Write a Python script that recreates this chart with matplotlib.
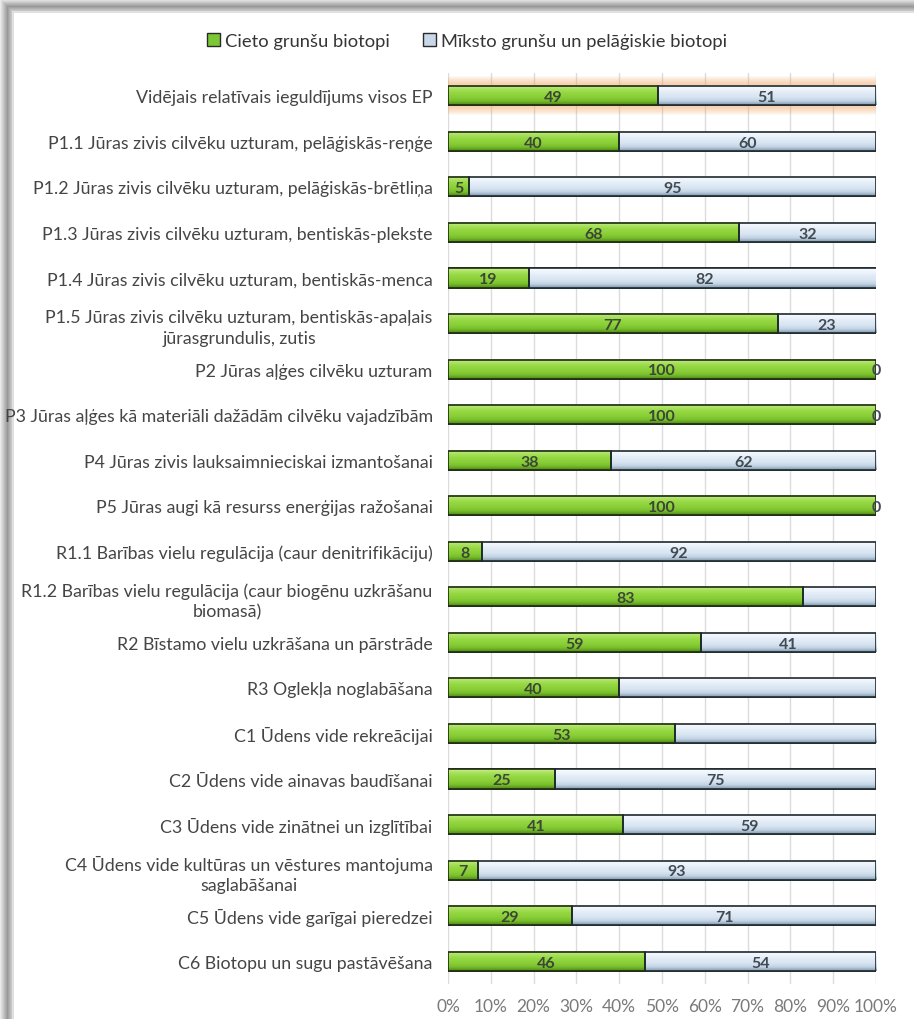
import numpy as np
import matplotlib
matplotlib.use("Agg")
import matplotlib.pyplot as plt
from matplotlib.patches import Patch, Rectangle

plt.rcParams['font.family'] = ['Lato', 'DejaVu Sans']

categories = [
    "Vidējais relatīvais ieguldījums visos EP",
    "P1.1 Jūras zivis cilvēku uzturam, pelāģiskās-reņģe",
    "P1.2 Jūras zivis cilvēku uzturam, pelāģiskās-brētliņa",
    "P1.3 Jūras zivis cilvēku uzturam, bentiskās-plekste",
    "P1.4 Jūras zivis cilvēku uzturam, bentiskās-menca",
    "P1.5 Jūras zivis cilvēku uzturam, bentiskās-apaļais\njūrasgrundulis, zutis",
    "P2 Jūras aļģes cilvēku uzturam",
    "P3 Jūras aļģes kā materiāli dažādām cilvēku vajadzībām",
    "P4 Jūras zivis lauksaimnieciskai izmantošanai",
    "P5 Jūras augi kā resurss enerģijas ražošanai",
    "R1.1 Barības vielu regulācija (caur denitrifikāciju)",
    "R1.2 Barības vielu regulācija (caur biogēnu uzkrāšanu\nbiomasā)",
    "R2 Bīstamo vielu uzkrāšana un pārstrāde",
    "R3 Oglekļa noglabāšana",
    "C1 Ūdens vide rekreācijai",
    "C2 Ūdens vide ainavas baudīšanai",
    "C3 Ūdens vide zinātnei un izglītībai",
    "C4 Ūdens vide kultūras un vēstures mantojuma\nsaglabāšanai",
    "C5 Ūdens vide garīgai pieredzei",
    "C6 Biotopu un sugu pastāvēšana",
]
hard = [49, 40, 5, 68, 19, 77, 100, 100, 38, 100, 8, 83, 59, 40, 53, 25, 41, 7, 29, 46]
soft = [51, 60, 95, 32, 82, 23, 0, 0, 62, 0, 92, 17, 41, 60, 47, 75, 59, 93, 71, 54]
# value labels shown on the soft-bottom series (None = not labelled)
soft_labels = [51, 60, 95, 32, 82, 23, 0, 0, 62, 0, 92, None, 41, None, None, 75, 59, 93, 71, 54]
series_names = ["Cieto grunšu biotopi", "Mīksto grunšu un pelāģiskie biotopi"]
tick_labels = [f"{v}%" for v in range(0, 101, 10)]

W, H = 914, 1020
fig = plt.figure(figsize=(W / 100, H / 100), dpi=100)

# background with a soft shadow along the top and left edges
bg = fig.add_axes([0, 0, 1, 1], zorder=-10)
yy, xx = np.mgrid[0:H, 0:W]
dist = np.minimum(yy, xx).astype(float)
shade = np.ones((H, W))
band = dist < 12
shade[band] = 0.60 + 0.32 * np.abs(dist[band] - 7) / 7.0
shade[(dist >= 12) & (dist < 13.5)] = 0.88
img = np.dstack([shade] * 3)
bg.imshow(img, extent=(0, 1, 0, 1), aspect='auto', origin='upper')
bg.set_axis_off()

ax = fig.add_axes([448 / W, 1 - 985 / H, 428 / W, (985 - 74) / H])
n = len(categories)
y = np.arange(n)
bh = 0.42

# highlight glow around the first row
for k in range(8):
    grow = 0.045 * k
    ax.add_patch(Rectangle((0, -bh / 2 - 0.06 - grow / 2), 100, bh + 0.12 + grow,
                           facecolor='#F7A35C', alpha=0.07, lw=0, zorder=1))

b1 = ax.barh(y, hard, height=bh, color='#8CD13A', edgecolor='#1E2A14', linewidth=1.2,
             label=series_names[0], zorder=3)
b2 = ax.barh(y, soft, left=hard, height=bh, color='#DCE8F4', edgecolor='#1E2A2E',
             linewidth=1.2, label=series_names[1], zorder=3)

green_grad = ['#C8F08C', '#A6E05A', '#92D640', '#8ACF38', '#78BE2C', '#4E8A16']
blue_grad = ['#FAFCFF', '#EEF4FB', '#E0EBF6', '#D8E5F2', '#C2D3E4', '#8499AE']


def fill_gradient(bars, colors):
    cols = np.array([matplotlib.colors.to_rgb(c) for c in colors])
    t = np.linspace(0, 1, 40)
    src = np.linspace(0, 1, len(cols))
    grad = np.stack([np.interp(t, src, cols[:, i]) for i in range(3)], axis=1)
    grad = np.repeat(grad[:, None, :], 2, axis=1)
    for r in bars:
        x0, y0 = r.get_x(), r.get_y()
        w, h = r.get_width(), r.get_height()
        if w <= 0:
            continue
        ax.imshow(grad, extent=(x0, min(x0 + w, 100), y0 + h, y0), aspect='auto',
                  origin='upper', zorder=3.5, interpolation='bilinear')
        ax.add_patch(Rectangle((x0, y0), w, h, facecolor='none',
                               edgecolor=r.get_edgecolor(), lw=1.2, zorder=4))


fill_gradient(b1, green_grad)
fill_gradient(b2, blue_grad)
ax.set_xlim(0, 100)
ax.set_ylim(n - 0.5, -0.5)

# value labels
for i in range(n):
    ax.text(hard[i] / 2, y[i] + 0.03, f"{hard[i]}", ha='center', va='center',
            fontsize=11.5, fontweight='bold', color='#3D4735', zorder=6)
    if soft_labels[i] is not None:
        ax.text(hard[i] + soft[i] / 2, y[i] + 0.03, f"{soft_labels[i]}", ha='center',
                va='center', fontsize=11.5, fontweight='bold', color='#414A52', zorder=6)

ax.set_yticks(y)
ax.set_yticklabels(categories, fontsize=12.8, color='#454545', multialignment='center',
                   linespacing=1.35)
ax.tick_params(axis='y', length=0, pad=11)
ax.set_xticks(np.arange(0, 101, 10))
ax.set_xticklabels(tick_labels, fontsize=12.5, color='#7A7A7A')
ax.tick_params(axis='x', length=0, pad=10)
ax.grid(axis='x', color='#DCDCDC', linewidth=1.0, zorder=0)
ax.set_axisbelow(True)
for s in ax.spines.values():
    s.set_visible(False)
ax.set_facecolor('none')

handles = [Patch(facecolor='#7CC834', edgecolor='#2A2A2A', lw=1.0),
           Patch(facecolor='#C8D8E8', edgecolor='#2A2A2A', lw=1.0)]
fig.legend(handles, series_names, loc='center', bbox_to_anchor=(0.511, 0.959), ncol=2,
           frameon=False, fontsize=13.2, handlelength=0.7, handleheight=0.7,
           handletextpad=0.3, columnspacing=1.8, labelcolor='#353535')

fig.savefig("out.png", dpi=100)
